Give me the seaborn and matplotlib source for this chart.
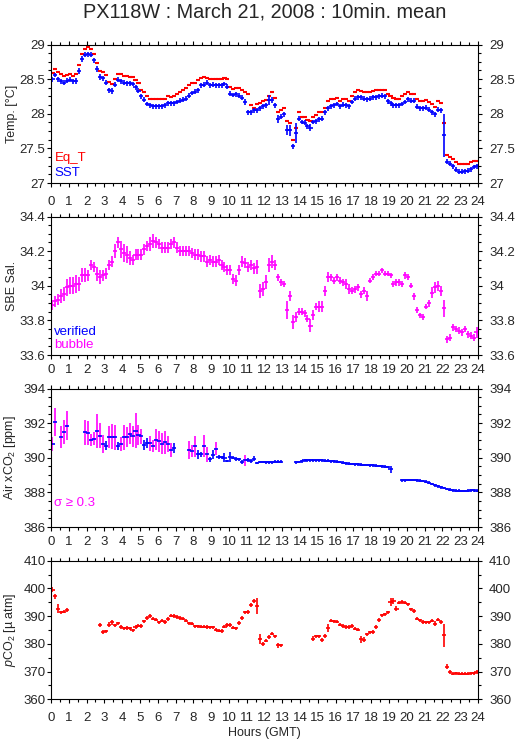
import numpy as np
import matplotlib
matplotlib.use("Agg")
import matplotlib.pyplot as plt
import matplotlib.transforms as mtrans
import seaborn as sns
from matplotlib.ticker import MultipleLocator, FormatStrFormatter

nan = np.nan

# 10-minute bins, 6 per hour (rows = hours 0..23)
eq_t = [
    28.59, 28.64, 28.60, 28.58, 28.54, 28.56,
    28.58, 28.55, 28.57, 28.71, 28.87, 28.93,
    28.97, 28.93, 28.86, 28.74, 28.62, 28.61,
    28.56, 28.46, 28.43, 28.50, 28.57, 28.57,
    28.55, 28.54, 28.53, 28.53, 28.49, 28.44,
    28.35, 28.31, 28.25, 28.21, 28.21, 28.21,
    28.21, 28.21, 28.22, 28.25, 28.24, 28.26,
    28.29, 28.31, 28.34, 28.37, 28.41, 28.44,
    28.45, 28.49, 28.51, 28.53, 28.51, 28.50,
    28.50, 28.50, 28.50, 28.50, 28.51, 28.50,
    28.39, 28.36, 28.37, 28.37, 28.34, 28.32,
    28.28, 28.12, 28.08, 28.14, 28.16, 28.19,
    28.20, 28.26, 28.31, 28.23, 28.03, 28.05,
    28.09, 27.89, 27.86, 27.62, 27.79, 28.02,
    27.96, 27.96, 27.91, 27.89, 27.96, 27.98,
    28.02, 28.02, 28.09, 28.18, 28.21, 28.22,
    28.23, 28.19, 28.22, 28.21, 28.19, 28.25,
    28.31, 28.34, 28.33, 28.32, 28.31, 28.32,
    28.33, 28.35, 28.35, 28.35, 28.35, 28.28,
    28.25, 28.23, 28.22, 28.22, 28.25, 28.29,
    28.31, 28.29, 28.28, 28.21, 28.19, 28.18,
    28.20, 28.17, 28.14, 28.10, 28.18, 28.15,
    27.86, 27.41, 27.38, 27.35, 27.31, 27.28,
    27.27, 27.28, 27.28, 27.31, 27.32, 27.32]

sst = [
    28.50, 28.56, 28.50, 28.47, 28.45, 28.48,
    28.49, 28.47, 28.47, 28.62, 28.79, 28.85,
    28.86, 28.85, 28.77, 28.65, 28.53, 28.51,
    28.45, 28.34, 28.33, 28.42, 28.49, 28.47,
    28.45, 28.44, 28.44, 28.43, 28.38, 28.33,
    28.25, 28.20, 28.14, 28.12, 28.11, 28.11,
    28.11, 28.11, 28.12, 28.15, 28.15, 28.15,
    28.17, 28.19, 28.20, 28.22, 28.26, 28.30,
    28.32, 28.34, 28.41, 28.42, 28.45, 28.41,
    28.42, 28.41, 28.41, 28.41, 28.43, 28.39,
    28.29, 28.27, 28.28, 28.26, 28.23, 28.17,
    28.02, 28.02, 28.05, 28.05, 28.08, 28.11,
    28.12, 28.20, 28.20, 28.12, 27.92, 27.96,
    27.99, 27.77, 27.76, 27.53, 27.72, 27.93,
    27.88, 27.87, 27.82, 27.80, 27.88, 27.89,
    27.92, 27.93, 28.02, 28.08, 28.11, 28.12,
    28.14, 28.11, 28.13, 28.12, 28.11, 28.17,
    28.22, 28.24, 28.24, 28.22, 28.21, 28.22,
    28.24, 28.24, 28.25, 28.26, 28.25, 28.18,
    28.15, 28.12, 28.12, 28.12, 28.14, 28.17,
    28.21, 28.19, 28.19, 28.10, 28.08, 28.08,
    28.09, 28.06, 28.02, 27.99, 28.06, 28.05,
    27.69, 27.31, 27.28, 27.24, 27.19, 27.16,
    27.16, 27.17, 27.18, 27.20, 27.23, 27.24]

sst_sd = [
    .035, .035, .035, .035, .035, .035,
    .035, .035, .04, .04, .04, .035,
    .035, .035, .035, .04, .04, .035,
    .035, .035, .04, .035, .035, .035,
    .035, .035, .035, .035, .035, .035,
    .035, .035, .035, .035, .035, .035,
    .035, .035, .035, .035, .035, .035,
    .035, .035, .035, .035, .035, .035,
    .035, .035, .035, .035, .04, .035,
    .035, .035, .035, .035, .035, .035,
    .04, .035, .035, .035, .035, .04,
    .04, .04, .035, .035, .035, .035,
    .04, .07, .04, .035, .06, .035,
    .035, .07, .08, .035, .14, .04,
    .035, .035, .035, .045, .035, .035,
    .035, .035, .035, .035, .035, .035,
    .035, .035, .035, .035, .035, .035,
    .035, .035, .035, .035, .035, .035,
    .035, .035, .035, .035, .035, .035,
    .035, .035, .035, .035, .035, .035,
    .035, .035, .035, .035, .035, .035,
    .035, .035, .04, .04, .035, .035,
    .31, .035, .035, .035, .035, .035,
    .035, .035, .035, .035, .035, .035]

salinity = [
    33.89, 33.91, 33.92, 33.94, 33.95, 33.99,
    34.00, 34.00, 34.01, 34.01, 34.06, 34.06,
    34.06, 34.12, 34.11, 34.07, 34.05, 34.06,
    34.07, 34.12, 34.14, 34.20, 34.25, 34.21,
    34.19, 34.18, 34.16, 34.15, 34.18, 34.18,
    34.18, 34.21, 34.23, 34.24, 34.26, 34.25,
    34.24, 34.22, 34.22, 34.22, 34.24, 34.25,
    34.22, 34.20, 34.20, 34.20, 34.20, 34.19,
    34.18, 34.18, 34.17, 34.17, 34.14, 34.15,
    34.14, 34.14, 34.15, 34.12, 34.11, 34.09,
    34.09, 34.04, 34.03, 34.09, 34.14, 34.13,
    34.11, 34.12, 34.10, 34.11, 33.97, 33.98,
    34.02, 34.12, 34.14, 34.12, 34.05, 34.02,
    34.01, 33.86, 33.94, 33.79, 33.82, 33.85,
    33.85, 33.84, 33.81, 33.77, 33.83, 33.88,
    33.88, 33.88, 33.97, 34.05, 34.05, 34.03,
    34.05, 34.03, 34.02, 34.01, 33.98, 33.97,
    33.98, 33.99, 33.95, 33.97, 33.94, 34.03,
    34.05, 34.07, 34.07, 34.09, 34.07, 34.07,
    34.06, 34.01, 34.02, 34.02, 34.01, 34.06,
    34.05, 34.00, 33.94, 33.86, 33.83, 33.82,
    33.88, 33.90, 33.96, 33.99, 34.00, 33.97,
    33.87, 33.69, 33.70, 33.76, 33.75, 33.74,
    33.73, 33.75, 33.72, 33.71, 33.70, 33.73]

salinity_sd = [
    .03, .03, .03, .04, .04, .05,
    .05, .05, .05, .04, .04, .04,
    .03, .03, .03, .04, .04, .03,
    .03, .03, .03, .04, .03, .05,
    .05, .05, .04, .03, .03, .03,
    .03, .03, .03, .04, .04, .03,
    .03, .03, .03, .03, .03, .03,
    .03, .03, .03, .03, .03, .03,
    .03, .03, .03, .03, .03, .03,
    .03, .03, .03, .03, .03, .03,
    .03, .03, .03, .03, .03, .03,
    .03, .03, .03, .04, .04, .04,
    .04, .04, .04, .03, .02, .02,
    .02, .05, .03, .04, .03, .02,
    .02, .02, .02, .04, .03, .02,
    .03, .03, .03, .03, .02, .02,
    .02, .02, .02, .03, .03, .02,
    .02, .02, .02, .02, .03, .015,
    .015, .015, .015, .015, .015, .015,
    .015, .02, .02, .02, .015, .02,
    .015, .015, .02, .02, .015, .015,
    .015, .02, .03, .03, .03, .03,
    .05, .02, .02, .02, .02, .02,
    .02, .02, .02, .02, .02, .03]

air_xco2 = [
    390.80, 392.07, nan, 391.20, 391.47, 391.84,
    nan, nan, nan, nan, nan, 391.47,
    391.44, 391.05, 391.09, 391.53, 391.28, 390.82,
    390.70, 391.22, 391.22, 391.18, 390.67, 390.77,
    391.19, 391.21, 391.40, 391.24, 391.57, 391.32,
    391.24, 390.71, 390.86, 390.84, 390.69, 391.03,
    390.96, 390.82, 390.90, 390.80, 390.44, 390.54,
    nan, nan, nan, nan, 390.44, 390.40,
    390.65, 390.19, 390.19, 390.69, 390.19, 389.90,
    390.17, 390.52, 390.04, 390.02, 390.00, 389.81,
    390.06, 390.00, 389.94, 389.90, 389.75, 389.85,
    389.85, 389.80, 389.94, 389.70, 389.75, 389.75,
    389.73, 389.73, 389.73, 389.77, 389.77, 389.77,
    nan, nan, nan, nan, 389.73, 389.75,
    389.80, 389.85, 389.85, 389.85, 389.85, 389.85,
    389.85, 389.85, 389.84, 389.82, 389.80, 389.79,
    389.78, 389.75, 389.72, 389.68, 389.66, 389.64,
    389.62, 389.62, 389.60, 389.58, 389.58, 389.57,
    389.56, 389.55, 389.53, 389.50, 389.48, 389.47,
    389.33, nan, nan, nan, 388.70, 388.70,
    388.72, 388.72, 388.71, 388.70, 388.68, 388.66,
    388.62, 388.55, 388.48, 388.40, 388.34, 388.30,
    388.25, 388.20, 388.15, 388.12, 388.10, 388.09,
    388.08, 388.08, 388.10, 388.11, 388.12, 388.10]

air_xco2_sd = [
    .40, .83, nan, .65, .70, .84,
    nan, nan, nan, nan, nan, .72,
    .70, .35, .38, .97, .72, .52,
    .25, .64, .72, .72, .25, .40,
    .72, .58, .58, .60, .99, .59,
    .43, .29, .27, .43, .33, .61,
    .61, .59, .67, .45, .41, .29,
    nan, nan, nan, nan, .50, .36,
    .62, .25, .15, .64, .43, .12,
    .25, .38, .10, .10, .25, .08,
    .28, .10, .10, .10, .12, .33,
    .12, .12, .14, .08, .08, .08,
    .08, .09, .08, .08, .08, .08,
    nan, nan, nan, nan, .08, .08,
    .08, .10, .09, .08, .08, .08,
    .08, .08, .08, .08, .08, .08,
    .08, .08, .08, .08, .08, .08,
    .08, .08, .08, .08, .08, .08,
    .08, .08, .08, .08, .08, .08,
    .20, nan, nan, nan, .08, .08,
    .08, .08, .08, .08, .08, .08,
    .08, .08, .08, .08, .08, .08,
    .08, .08, .08, .08, .08, .08,
    .08, .08, .08, .08, .08, .08]

pco2 = [
    399.6, 397.1, 392.7, 391.3, 391.6, 392.2,
    nan, nan, nan, nan, nan, nan,
    nan, nan, nan, nan, 386.9, 384.3,
    384.5, 386.9, 387.7, 386.7, 387.4, 386.1,
    385.6, 385.7, 385.6, 384.9, 386.1, 386.6,
    386.4, 388.1, 389.3, 390.0, 389.1, 388.7,
    387.7, 388.3, 387.9, 389.0, 390.2, 390.0,
    389.7, 389.3, 389.1, 388.4, 387.4, 387.3,
    386.3, 386.3, 386.2, 386.2, 386.1, 386.0,
    386.0, 385.1, 384.8, 384.6, 386.2, 386.9,
    386.7, 385.8, 385.6, 387.5, 389.3, 391.3,
    391.5, 394.0, 395.4, 393.6, 381.9, 380.0,
    381.1, 382.5, 383.7, 382.7, 379.4, 379.4,
    nan, nan, nan, nan, nan, nan,
    nan, nan, nan, nan, 381.9, 382.7,
    382.7, 381.4, 382.8, 385.8, 388.4, 388.1,
    388.0, 386.9, 386.4, 386.1, 386.1, 386.4,
    385.5, 385.1, 381.6, 381.5, 383.4, 384.2,
    384.3, 386.1, 388.7, 390.3, 390.6, 391.3,
    395.1, 395.4, 392.7, 394.8, 395.1, 394.8,
    394.2, 392.4, 391.8, 389.1, 388.5, 387.9,
    387.7, 387.7, 388.3, 387.3, 388.7, 387.9,
    383.1, 371.8, 369.8, 369.2, 369.4, 369.2,
    369.2, 369.2, 369.2, 369.3, 369.4, 369.8]

pco2_sd = [
    .9, .9, 1.6, .6, .6, .6,
    nan, nan, nan, nan, nan, nan,
    nan, nan, nan, nan, .7, .6,
    .6, .9, .8, .6, .6, .6,
    .6, .6, .6, .6, .6, .6,
    .6, .6, .6, .6, .6, .6,
    .6, .6, .6, .6, .6, .6,
    .6, .6, .6, .6, .6, .6,
    .6, .6, .6, .6, .6, .6,
    .6, .6, .6, .6, .6, .7,
    .7, .6, .6, .6, .7, .7,
    .6, .7, .7, 3.0, 1.8, .8,
    .6, .6, .6, .6, 1.0, .6,
    nan, nan, nan, nan, nan, nan,
    nan, nan, nan, nan, .8, .6,
    .6, .6, .8, 1.5, .6, .6,
    .6, .6, .6, .6, .8, .7,
    .6, .6, 1.2, 1.0, .6, .6,
    .6, .8, .7, .6, .6, .7,
    1.5, 1.0, 1.0, .6, .6, .6,
    .6, .6, .8, .6, .6, .6,
    .6, .6, .6, .8, .6, .6,
    4.2, .8, .6, .6, .6, .6,
    .6, .6, .6, .6, .6, .6]

hour_ticks = list(range(0, 25))
title = "PX118W : March 21, 2008 : 10min. mean"

# ---------------------------------------------------------------------------
sns.set_theme(style="ticks")
plt.rcParams["font.family"] = ["Liberation Sans", "DejaVu Sans"]
plt.rcParams["mathtext.fontset"] = "custom"
plt.rcParams["mathtext.rm"] = "Liberation Sans"
plt.rcParams["mathtext.it"] = "Liberation Sans:italic"
plt.rcParams["axes.linewidth"] = 0.8
plt.rcParams["axes.edgecolor"] = "black"

RED, BLUE, MAG = "#ff0000", "#0000ff", "#ff00ff"
FS = 9.5

t = np.arange(len(eq_t)) / 6.0 + 1.0 / 12.0
half = 0.115  # half-width of the horizontal bar of each mark (hours)

fig = plt.figure(figsize=(5.15, 7.39), dpi=100)
W_PX, H_PX = 515.0, 739.0
left, width = 51 / W_PX, 427 / W_PX
tops = [44.5, 216.5, 388.5, 560.7]
ph = 138.5
axes = [fig.add_axes([left, 1 - (tp + ph) / H_PX, width, ph / H_PX]) for tp in tops]


def style_axis(ax, ylim, major, minor, fmt, top_labels=False, bottom_labels=False):
    ax.set_facecolor("white")
    ax.set_xlim(0, 24)
    ax.set_ylim(*ylim)
    ax.set_xticks(hour_ticks)
    ax.xaxis.set_minor_locator(MultipleLocator(0.5))
    ax.yaxis.set_major_locator(MultipleLocator(major))
    ax.yaxis.set_minor_locator(MultipleLocator(minor))
    ax.yaxis.set_major_formatter(FormatStrFormatter(fmt))
    ax.tick_params(axis="x", which="both", direction="out", top=True, bottom=True,
                   labeltop=top_labels, labelbottom=bottom_labels, labelsize=FS,
                   color="black", width=0.8, pad=6.0)
    ax.tick_params(axis="x", which="major", length=3.2)
    ax.tick_params(axis="x", which="minor", length=2.2)
    ax.tick_params(axis="y", which="both", direction="out", left=True, right=True,
                   labelleft=True, labelright=True, labelsize=FS, color="black",
                   width=0.8, pad=1.0)
    ax.tick_params(axis="y", which="major", length=3.0)
    ax.tick_params(axis="y", which="minor", length=2.2)
    ax.grid(False)
    for s in ax.spines.values():
        s.set_visible(True)
        s.set_color("black")
        s.set_linewidth(0.8)
    ax.yaxis.set_label_coords(-0.078, 0.5)
    off = mtrans.ScaledTranslation(4.0 / 72.0, 0, fig.dpi_scale_trans)
    for tk in ax.yaxis.get_major_ticks():
        tk.label2.set_transform(tk.label2.get_transform() + off)


# Panel 1: temperatures
ax = axes[0]
ax.errorbar(t, eq_t, xerr=half, fmt="none", ecolor=RED, elinewidth=1.5, capsize=0)
ax.errorbar(t, sst, xerr=half, yerr=sst_sd, fmt="none", ecolor=BLUE, elinewidth=1.2, capsize=0)
style_axis(ax, (27, 29), 0.5, 0.125, "%g", bottom_labels=True)
ax.set_ylabel("Temp. [°C]", fontsize=FS - 0.5)
ax.text(0.008, 0.178, "Eq_T", color=RED, fontsize=FS, transform=ax.transAxes, va="center")
ax.text(0.008, 0.072, "SST", color=BLUE, fontsize=FS, transform=ax.transAxes, va="center")

# Panel 2: salinity
ax = axes[1]
ax.errorbar(t, salinity, xerr=half, yerr=salinity_sd, fmt="none", ecolor=MAG, elinewidth=1.2, capsize=0)
style_axis(ax, (33.6, 34.4), 0.2, 0.05, "%g")
ax.set_ylabel("SBE Sal.", fontsize=FS - 0.5)
ax.text(0.008, 0.166, "verified", color=BLUE, fontsize=FS, transform=ax.transAxes, va="center")
ax.text(0.008, 0.074, "bubble", color=MAG, fontsize=FS, transform=ax.transAxes, va="center")

# Panel 3: air xCO2
ax = axes[2]
xc = np.array(air_xco2, dtype=float)
xs = np.array(air_xco2_sd, dtype=float)
bar_colors = [MAG if s >= 0.3 else BLUE for s in np.nan_to_num(xs)]
ax.vlines(t, xc - xs, xc + xs, colors=bar_colors, linewidth=1.2)
ax.errorbar(t, xc, xerr=half, fmt="none", ecolor=BLUE, elinewidth=1.2, capsize=0)
style_axis(ax, (386, 394), 2, 0.5, "%g", top_labels=True)
ax.set_ylabel("Air xCO$_2$ [ppm]", fontsize=FS - 0.5)
ax.text(0.008, 0.172, "σ ≥ 0.3", color=MAG, fontsize=FS, transform=ax.transAxes, va="center")

# Panel 4: pCO2
ax = axes[3]
ax.errorbar(t, pco2, xerr=half, yerr=pco2_sd, fmt="none", ecolor=RED, elinewidth=1.2, capsize=0)
style_axis(ax, (360, 410), 10, 5, "%g", top_labels=True, bottom_labels=True)
ax.set_ylabel("$\\it{p}$CO$_2$ [µ atm]", fontsize=FS - 0.5)

fig.text(264.5 / W_PX, 1 - 733 / H_PX, "Hours (GMT)", ha="center", va="center", fontsize=FS - 0.5)
fig.text(265 / W_PX, 1 - 12 / H_PX, title, ha="center", va="center", fontsize=14.3)

fig.savefig("out.png", dpi=100, facecolor="white")
